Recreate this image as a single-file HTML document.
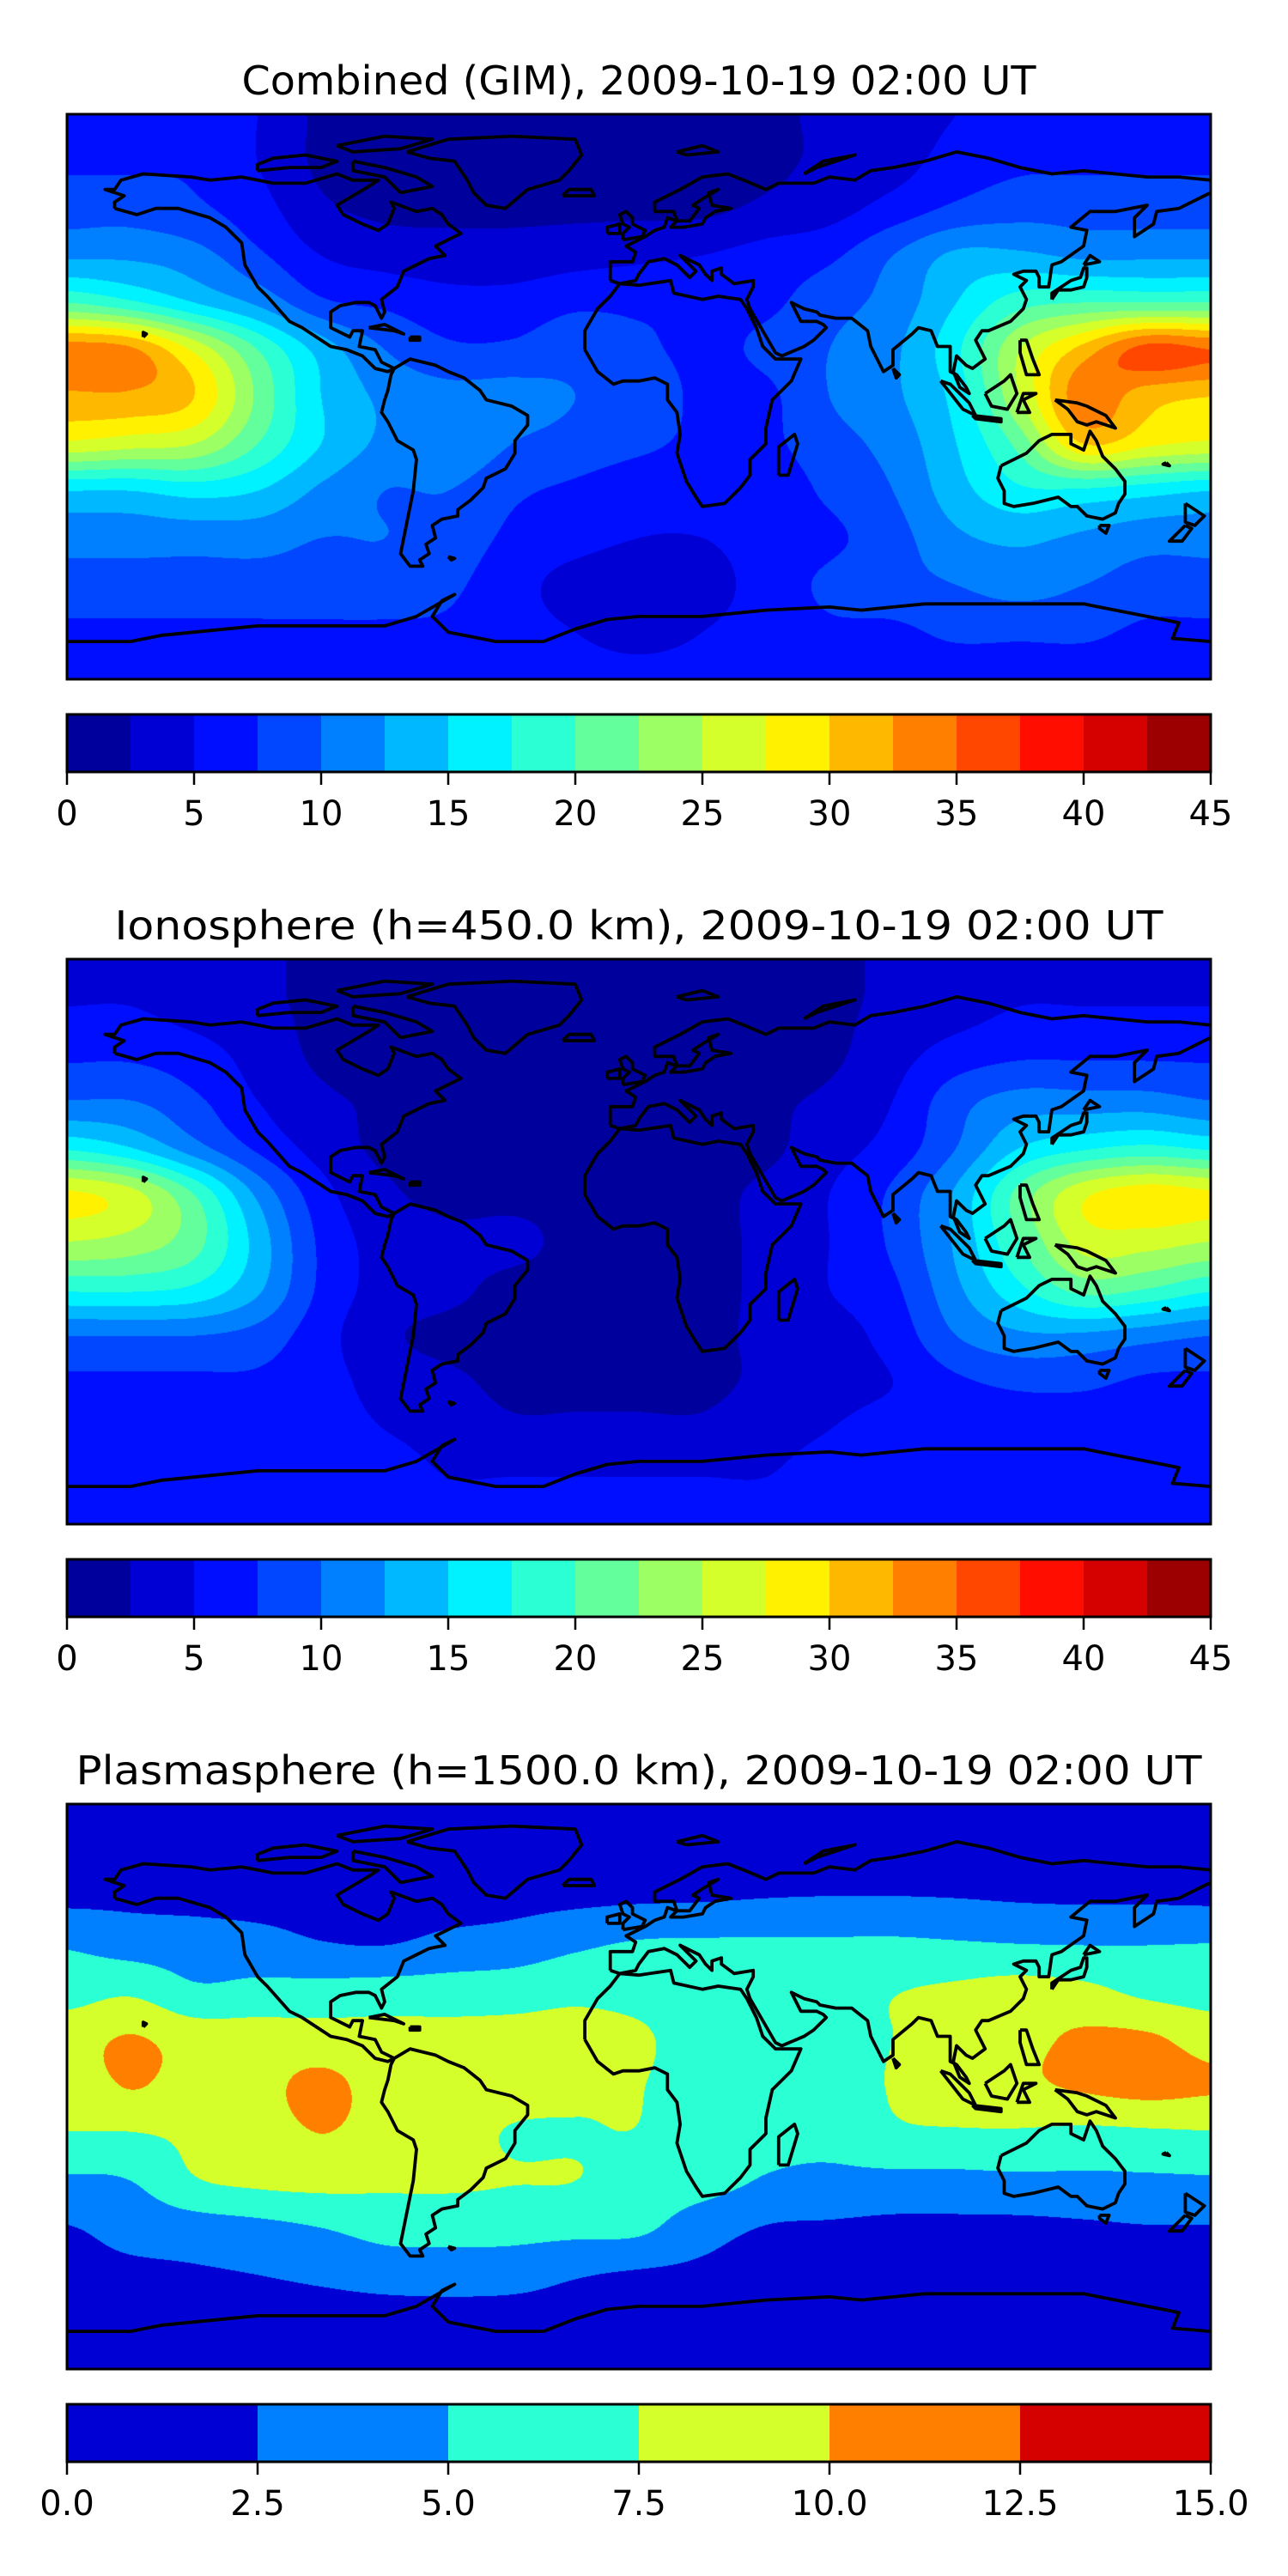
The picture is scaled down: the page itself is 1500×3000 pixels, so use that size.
<!DOCTYPE html>
<html><head><meta charset="utf-8">
<style>
html,body{margin:0;padding:0;background:#fff;}
#page{position:relative;width:1500px;height:3000px;overflow:hidden;background:#fff;}
canvas{position:absolute;}
#overlay{position:absolute;left:0;top:0;}
</style></head>
<body>
<div id="page">
<svg id="overlay" width="1500" height="3000" xmlns="http://www.w3.org/2000/svg"></svg>
</div>
<script>
// ---------- data ----------
const gridLons = [-180,-160,-140,-120,-100,-80,-60,-40,-20,0,20,40,60,80,100,120,140,160,180];
const gridLats = [90,75,60,45,30,15,0,-15,-30,-45,-60,-75,-90];

const combinedTEC = [
[6,6,6,5,2,1.5,1.5,1.5,1.5,1.5,1.5,2,3,4,5,6,6,6,6],
[7,7,7,5,2,1.5,1.5,1.5,1.5,1.5,1.5,2,3,4,6,7,7,7,7],
[9,9,8,6,3,2,2,2,2,2,2,3,4,6,8,9,9,9,9],
[12,12,11,8,5,4,3.5,3.5,4,4.5,5,6,7,10,13,13,12,12,12],
[20,18,15,12,8,7,6,6,7,7,7,7,9,11,15,19,20,20,20],
[34,33,27,20,14,10,8,8,9,8,7,8,10,12,17,25,31,36,35],
[32,32,30,22,15,12,11,11,10,9,7,7,10,12,16,25,34,31,30],
[27,26,25,20,15,12,12,10,9,8,7,7,9,11,15,21,30,28,27],
[15,15,16,15,12,10,10,8,7,6,6,6,8,10,14,17,17,16,15],
[11,11,11,11,10,10,9,7,6,5,5,6,7,9,12,13,12,11,11],
[9,9,9,9,9,9,8,6,4,3,4,6,8,9,10,11,10,9,9],
[7,7,7,7,7,7,7,6,5,4,5,6,7,7,8,8,8,7,7],
[6,6,6,6,6,6,6,6,6,6,6,6,6,6,6,6,6,6,6]];

const ionoTEC = [
[4,4,4,3,2,2,2,2,2,2,2,2,2,3,4,4,4,4,4],
[5,5,4,3,2,1,1,1,1,1,1,1,2,3,4,5,5,5,5],
[7,7,6,4,2,1,1,1,1,1,1,1,2,4,6,7,7,7,7],
[10,10,8,5,3,2,1,1,1,1,1,2,3,5,9,11,11,11,10],
[17,15,11,7,4,2,2,2,2,2,2,2,4,6,10,15,17,18,17],
[28,26,20,12,6,3,2,2,2,2,2,3,5,8,13,21,27,29,28],
[25,24,21,14,7,4,3,3,2,2,2,3,5,8,13,20,26,26,25],
[18,18,17,13,7,4,3,2,2,2,2,3,5,7,12,17,21,20,18],
[10,10,10,9,6,3,2,2,2,2,2,3,4,6,10,12,12,11,10],
[7,7,7,7,6,4,3,2,2,2,2,3,4,5,7,8,8,7,7],
[6,6,6,6,6,5,4,3,3,3,3,4,5,6,6,6,6,6,6],
[6,6,6,6,6,6,5,5,5,5,5,5,6,6,6,6,6,6,6],
[6,6,6,6,6,6,6,6,6,6,6,6,6,6,6,6,6,6,6]];

const plasmaTEC = [
[0.5,0.5,0.5,0.5,0.5,0.5,0.5,0.5,0.5,0.5,0.5,0.5,0.5,0.5,0.5,0.5,0.5,0.5,0.5],
[1,1,1,1,1,1,1,1,1,1,1,1,1,1.2,1.2,1.1,1,1,1],
[2,2,1.8,1.6,1.5,1.5,1.6,1.8,2,2.2,2.3,2.5,2.6,2.6,2.5,2.3,2.2,2.2,2.1],
[4.8,4,3.8,3.5,2.7,2.5,3.2,3.6,4.6,5.3,5.4,5.4,5.4,5.5,5.3,5.1,5,5,5.1],
[6.5,7.2,5.5,5.8,6,6.2,6.3,6.5,7,6.8,6.5,6.5,6.5,7.4,8,8.6,8.2,7,6.5],
[9,10.2,9,8.8,8.6,8.4,8.3,8.3,8.2,7.8,6.5,6.3,6.3,7.5,8.5,9.3,10.4,10.4,9],
[8.5,10.1,9,9.3,10.6,9,8.8,8.6,8,7.6,6.3,6,6,7.7,8.8,9.5,10.3,10.8,10.3],
[7.4,7.4,8,8.8,10,9,8.8,7.3,7.3,7.4,6,5.6,5.5,7,7.2,7.2,6.9,7.1,7.3],
[4.6,5,7.3,8,8.3,8,8,7.6,7.5,6.5,6,4.8,4.5,4.3,4.3,4.5,4.5,4.6,4.7],
[2.4,3.3,3.8,4.3,5,5.8,5.8,5.8,5.7,5.5,3.5,2.4,2.2,2,2,2,2.2,2.4,2.4],
[1.8,2,2.2,2.5,3,3.6,3.8,3.6,2.7,2.2,2,1.8,1.8,1.8,1.8,1.8,1.8,1.8,1.8],
[1.2,1.2,1.2,1.2,1.2,1.2,1.2,1.2,1.2,1.2,1.2,1.2,1.2,1.2,1.2,1.2,1.2,1.2,1.2],
[1,1,1,1,1,1,1,1,1,1,1,1,1,1,1,1,1,1,1]];

const tecTickLabels = ["0","5","10","15","20","25","30","35","40","45"];
const plasmaTickLabels = ["0.0","2.5","5.0","7.5","10.0","12.5","15.0"];
const panelTitles = ["Combined (GIM), 2009-10-19 02:00 UT","Ionosphere  (h=450.0 km), 2009-10-19 02:00 UT","Plasmasphere (h=1500.0 km), 2009-10-19 02:00 UT"];

// coastlines [lon,lat]
const coasts = [
[[-165,60],[-158,58],[-152,60],[-145,60],[-135,57],[-130,54],[-125,49],[-124,42],[-120,35],[-117,32],[-110,24],[-106,22],[-97,16],[-92,15],[-87,13],[-83,9],[-79,8],[-77,9],[-81,11],[-83,15],[-88,16],[-87,21],[-90,21],[-91,19],[-97,22],[-97,27],[-94,29],[-89,30],[-85,30],[-83,29],[-81,25],[-80,27],[-81,31],[-76,35],[-74,40],[-70,42],[-66,44],[-61,45],[-64,48],[-60,50],[-56,52],[-60,55],[-62,58],[-65,60],[-70,59],[-78,62],[-77,60],[-79,55],[-82,53],[-87,55],[-93,58],[-95,61],[-90,64],[-85,67],[-82,69],[-90,69],[-95,71],[-105,68],[-115,68],[-125,70],[-135,69],[-141,70],[-156,71],[-163,69],[-165,66],[-168,66],[-162,64],[-165,62],[-165,60]],
[[-73,78],[-60,82],[-40,83],[-20,82],[-18,77],[-22,72],[-25,69],[-35,66],[-42,60],[-48,61],[-52,65],[-54,69],[-58,75],[-66,76],[-73,78]],
[[-120,72],[-110,73],[-100,73],[-95,75],[-105,77],[-115,76],[-120,74],[-120,72]],
[[-90,75],[-80,73],[-70,70],[-65,67],[-75,65],[-80,70],[-90,72],[-90,75]],
[[-95,80],[-80,83],[-65,82],[-75,79],[-90,78],[-95,80]],
[[-77,9],[-72,12],[-64,10],[-60,8],[-55,6],[-50,2],[-48,-1],[-40,-3],[-35,-6],[-35,-9],[-39,-14],[-39,-18],[-42,-23],[-48,-26],[-49,-29],[-53,-33],[-57,-36],[-57,-38],[-62,-39],[-65,-41],[-64,-45],[-67,-47],[-66,-50],[-69,-52],[-68,-54],[-72,-54],[-75,-50],[-74,-45],[-73,-40],[-72,-35],[-71,-30],[-70,-20],[-71,-17],[-76,-14],[-79,-8],[-81,-5],[-80,-1],[-79,2],[-78,7],[-77,9]],
[[-17,15],[-17,21],[-13,28],[-9,32],[-6,36],[0,35.5],[10,37],[11,33],[20,31],[25,32],[32,31],[34,28],[37,22],[39,16],[43,12],[51,12],[48,5],[42,-1],[40,-10],[40,-15],[35,-20],[35,-25],[32,-29],[27,-34],[20,-35],[18,-32],[15,-27],[12,-18],[13,-12],[12,-5],[9,-1],[9,4],[5,6],[0,5],[-5,5],[-8,4],[-13,8],[-17,15]],
[[-9,37],[-9,43],[-2,43],[-1,46],[-4,48],[2,51],[5,53],[8,54],[9,57],[12,56],[10,54],[14,54],[20,55],[21,57],[24,59],[29,60],[23,61],[22,65],[25,66],[20,63],[17,61],[19,60],[16,56],[12,56],[11,59],[5,59],[5,62],[13,66],[20,70],[28,71],[33,69],[40,66],[44,68],[55,68],[60,70],[68,69],[73,72],[80,73],[90,75],[100,78],[110,76],[120,73],[130,71],[140,72],[150,71],[160,70],[170,70],[180,69]],
[[180,65],[178,64],[170,60],[163,59],[162,55],[156,51],[156,57],[160,61],[150,59],[142,59],[136,54],[141,53],[140,48],[133,43],[130,42],[129,35],[126,35],[126,38],[125,40],[121,40],[118,39],[122,37],[120,35],[122,31],[121,28],[117,24],[110,21],[108,21],[106,18],[109,12],[105,9],[103,10],[100,13],[99,8],[101,3],[104,1],[103,3],[100,7],[98,8],[98,16],[94,16],[92,21],[88,22],[86,20],[80,15],[80,10],[77,8],[73,16],[72,21],[67,25],[62,25],[57,26],[56,27],[52,28],[48,30],[50,26],[51,24],[56,24],[58,23],[59,22],[55,18],[52,16],[45,13],[43,14],[39,21],[35,28],[34,31],[36,35],[36,37],[30,36],[26,39],[26,41],[23,40],[23,37],[21,39],[19,42],[13,45],[16,42],[18,40],[16,38],[12,42],[8,44],[3,43],[0,39],[-1,37],[-6,36],[-9,37]],
[[-5,50],[1,51],[2,53],[-2,55],[-2,57],[-4,59],[-6,58],[-5,55],[-3,54],[-5,52],[-5,50]],
[[-10,52],[-6,52],[-6,55],[-10,54],[-10,52]],
[[130,31],[132,34],[136,34],[140,35],[141,38],[141,41],[140,41],[139,38],[136,37],[133,35],[130,33],[130,31]],
[[140,42],[145,43],[142,45],[140,42]],
[[114,-22],[116,-21],[122,-18],[126,-14],[130,-12],[136,-12],[136,-15],[140,-17],[142,-11],[144,-14],[146,-19],[150,-23],[153,-27],[153,-31],[151,-34],[150,-37],[146,-39],[141,-38],[138,-35],[136,-35],[132,-32],[124,-34],[118,-35],[115,-34],[115,-30],[113,-26],[114,-22]],
[[145,-41],[148,-41],[147,-43.5],[145,-42],[145,-41]],
[[172,-34],[178,-38],[175,-41],[172,-40],[172,-34]],
[[172,-41],[174,-42],[171,-46],[167,-46],[172,-41]],
[[95,5],[98,4],[104,-2],[106,-6],[102,-4],[95,5]],
[[109,1],[111,-3],[116,-4],[119,1],[117,7],[115,5],[109,1]],
[[105,-6],[114,-7],[114,-8],[106,-7],[105,-6]],
[[131,-1],[138,-2],[141,-3],[147,-6],[150,-10],[144,-8],[141,-9],[138,-8],[135,-4],[131,-1]],
[[120,18],[122,18],[124,12],[126,7],[122,7],[120,14],[120,18]],
[[119,-5],[121,1],[125,1],[121,-1],[123,-5],[119,-5]],
[[44,-25],[47,-25],[50,-15],[49,-12],[44,-16],[44,-25]],
[[-180,-78],[-160,-78],[-150,-76],[-140,-75],[-120,-73],[-100,-73],[-80,-73],[-70,-70],[-58,-63],[-62,-65],[-65,-70],[-60,-75],[-45,-78],[-30,-78],[-20,-74],[-10,-71],[0,-70],[20,-70],[40,-68],[60,-67],[70,-68],[80,-67],[90,-66],[100,-66],[120,-66],[140,-66],[150,-68],[165,-71],[170,-72],[168,-77],[180,-78]],
[[-24,64],[-14,64],[-15,66],[-22,66],[-24,64]],
[[12,78],[20,80],[25,78],[15,77],[12,78]],
[[52,71],[58,75],[68,77],[56,73],[52,71]],
[[-85,22],[-77,21],[-74,20],[-80,23],[-85,22]],
[[-72,19],[-69,19],[-69,18],[-72,18],[-72,19]],
[[80,9],[82,7],[81,6],[80,9]],
[[-156,19],[-155,20],[-156,20.5],[-156,19]],
[[-60,-51],[-58,-51.5],[-59,-52],[-60,-51]],
[[166,-21],[167,-22],[165,-21.5],[166,-21]]
];

// ---------- layout ----------
const MAPX = 78, MAPW = 1332, MAPH = 658;
const panels = [
  {top:133, data:combinedTEC, vmax:45, nlev:18, ticks:tecTickLabels, name:"combined", titleW:925},
  {top:1117, data:ionoTEC, vmax:45, nlev:18, ticks:tecTickLabels, name:"ionosphere", titleW:1221},
  {top:2101, data:plasmaTEC, vmax:15, nlev:6, ticks:plasmaTickLabels, name:"plasmasphere", titleW:1311}
];

function clamp01(v){return v<0?0:(v>1?1:v);}
function jet(x){
  const r=clamp01(Math.min(4*x-1.5,-4*x+4.5));
  const g=clamp01(Math.min(4*x-0.5,-4*x+3.5));
  const b=clamp01(Math.min(4*x+0.5,-4*x+2.5));
  return [Math.round(r*255),Math.round(g*255),Math.round(b*255)];
}
function cr(p0,p1,p2,p3,t){
  return p1+0.5*t*(p2-p0+t*(2*p0-5*p1+4*p2-p3+t*(3*(p1-p2)+p3-p0)));
}
function sample(grid,gx,gy){
  const nr=grid.length, nc=grid[0].length;
  const ix=Math.floor(gx), iy=Math.floor(gy);
  const tx=gx-ix, ty=gy-iy;
  const rows=[];
  for(let j=-1;j<=2;j++){
    const r=grid[Math.min(nr-1,Math.max(0,iy+j))];
    const v=[];
    for(let i=-1;i<=2;i++) v.push(r[Math.min(nc-1,Math.max(0,ix+i))]);
    rows.push(cr(v[0],v[1],v[2],v[3],tx));
  }
  return cr(rows[0],rows[1],rows[2],rows[3],ty);
}
const xOfLon = lon => MAPX + (lon+180)/360*MAPW;
const yOfLat = (lat,top) => top + (90-lat)/180*MAPH;

const page=document.getElementById('page');
const svg=document.getElementById('overlay');
const NS="http://www.w3.org/2000/svg";
function mk(tag,attrs){const e=document.createElementNS(NS,tag);for(const k in attrs)e.setAttribute(k,attrs[k]);return e;}

panels.forEach((p,pi)=>{
  const lonStep=(gridLons[gridLons.length-1]-gridLons[0])/(gridLons.length-1);
  const latStep=(gridLats[0]-gridLats[gridLats.length-1])/(gridLats.length-1);
  const cv=document.createElement('canvas');
  cv.width=MAPW; cv.height=MAPH;
  cv.style.left=MAPX+'px'; cv.style.top=p.top+'px';
  
  
  page.insertBefore(cv, svg);
  const ctx=cv.getContext('2d');
  const img=ctx.createImageData(MAPW,MAPH);
  const step=p.vmax/p.nlev;
  const pal=[];
  for(let i=0;i<p.nlev;i++) pal.push(jet((i+0.5)/p.nlev));
  for(let py=0;py<MAPH;py++){
    const lat=90-(py+0.5)/MAPH*180;
    const gy=(gridLats[0]-lat)/latStep;
    for(let px=0;px<MAPW;px++){
      const lon=-180+(px+0.5)/MAPW*360;
      const gx=(lon-gridLons[0])/lonStep;
      const v=sample(p.data,gx,gy);
      let li=Math.floor(v/step); if(li<0)li=0; if(li>=p.nlev)li=p.nlev-1;
      const c=pal[li], o=(py*MAPW+px)*4;
      img.data[o]=c[0];img.data[o+1]=c[1];img.data[o+2]=c[2];img.data[o+3]=255;
    }
  }
  ctx.putImageData(img,0,0);

  const t=mk('text',{x:744,y:p.top-23,'text-anchor':'middle','font-family':'DejaVu Sans, Liberation Sans, sans-serif','font-size':46,textLength:p.titleW,lengthAdjust:'spacingAndGlyphs',fill:'#000'});
  t.textContent=panelTitles[pi];
  
  
  svg.appendChild(t);

  const g=mk('g',{});
  
  
  const cp=mk('clipPath',{id:'clip'+pi});
  cp.appendChild(mk('rect',{x:MAPX,y:p.top,width:MAPW,height:MAPH}));
  svg.appendChild(cp);
  g.setAttribute('clip-path','url(#clip'+pi+')');
  coasts.forEach(poly=>{
    const d=poly.map((q,i)=>(i?'L':'M')+xOfLon(q[0]).toFixed(1)+','+yOfLat(q[1],p.top).toFixed(1)).join('');
    const path=mk('path',{d:d,fill:'none',stroke:'#000','stroke-width':3.8,'stroke-linejoin':'round'});
    
    
    g.appendChild(path);
  });
  svg.appendChild(g);
  const frame=mk('rect',{x:MAPX,y:p.top,width:MAPW,height:MAPH,fill:'none',stroke:'#000','stroke-width':3});
  
  
  svg.appendChild(frame);

  const cbTop=p.top+699, cbH=67;
  const cbg=mk('g',{});
  
  
  const segW=MAPW/p.nlev;
  for(let i=0;i<p.nlev;i++){
    const c=pal[i];
    const r=mk('rect',{x:(MAPX+i*segW).toFixed(2),y:cbTop,width:(segW+0.6).toFixed(2),height:cbH,fill:'rgb('+c.join(',')+')'});
    
    
    cbg.appendChild(r);
  }
  cbg.appendChild(mk('rect',{x:MAPX,y:cbTop,width:MAPW,height:cbH,fill:'none',stroke:'#000','stroke-width':3}));
  const nt=p.ticks.length;
  for(let i=0;i<nt;i++){
    const x=MAPX+i*MAPW/(nt-1);
    const tk=mk('line',{x1:x,x2:x,y1:cbTop+cbH,y2:cbTop+cbH+15,stroke:'#000','stroke-width':2.5});
    
    
    cbg.appendChild(tk);
    const lb=mk('text',{x:x,y:cbTop+129,'text-anchor':'middle','font-family':'DejaVu Sans, Liberation Sans, sans-serif','font-size':40,fill:'#000'});
    lb.textContent=p.ticks[i];
    
    
    cbg.appendChild(lb);
  }
  svg.appendChild(cbg);
});
</script>
</body></html>
